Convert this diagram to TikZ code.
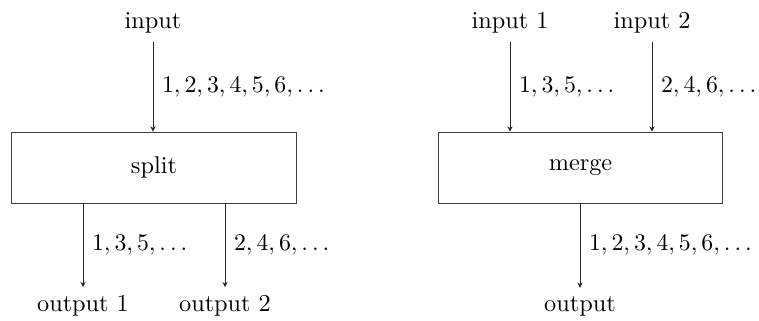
\documentclass[tikz,border=0pt]{standalone}
\usetikzlibrary{arrows.meta}
\begin{document}
\begin{tikzpicture}[x=0.42pt,y=-0.42pt,font=\fontsize{10.2}{12}\selectfont,
  box/.style={draw=black!75,minimum width=119.3pt,minimum height=29.8pt,inner sep=0pt},
  flow/.style={-{Stealth[length=2.2pt,width=2.2pt]},draw=black!85},
  lbl/.style={right,inner sep=3.6pt}]
\useasboundingbox (0,0) rectangle (759,320);
\node[box] (split) at (154,167.5) {split};
\node (in) at (153,23) {input};
\node (o1) at (83,306) {output 1};
\node (o2) at (225,306) {output 2};
\draw[flow] (in.south) -- (in.south |- split.north) node[lbl,midway] {$1,2,3,4,5,6,\ldots$};
\coordinate (s1) at (split.south -| o1.north);
\coordinate (s2) at (split.south -| o2.north);
\draw[flow] (s1) -- (o1.north) node[lbl,midway] {$1,3,5,\ldots$};
\draw[flow] (s2) -- (o2.north) node[lbl,midway] {$2,4,6,\ldots$};

\node[box] (merge) at (580.5,167.5) {merge};
\node (i1) at (510,23) {input 1};
\node (i2) at (652,23) {input 2};
\node (out) at (580,306) {output};
\draw[flow] (i1.south) -- (i1.south |- merge.north) node[lbl,midway] {$1,3,5,\ldots$};
\draw[flow] (i2.south) -- (i2.south |- merge.north) node[lbl,midway] {$2,4,6,\ldots$};
\coordinate (m1) at (merge.south -| out.north);
\draw[flow] (m1) -- (out.north) node[lbl,midway] {$1,2,3,4,5,6,\ldots$};
\end{tikzpicture}
\end{document}
